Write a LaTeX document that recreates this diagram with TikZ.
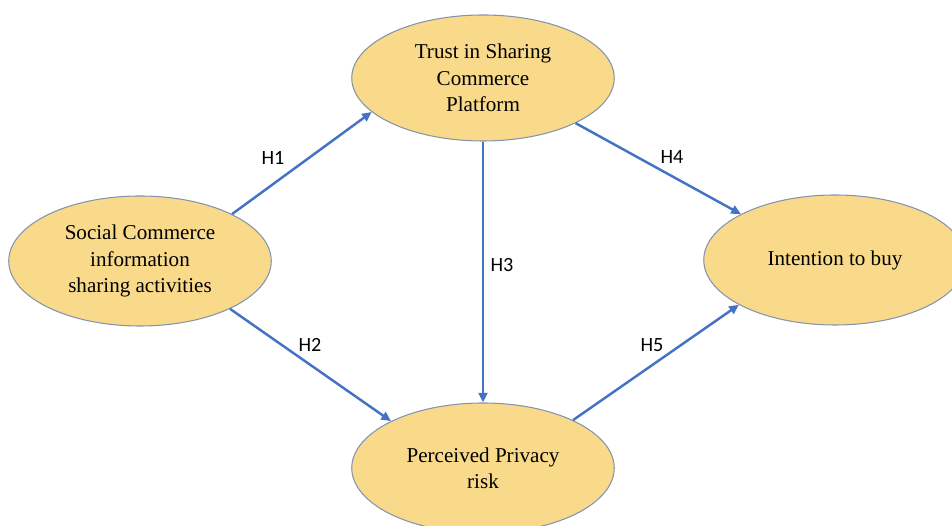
\documentclass[tikz,border=0pt]{standalone}
\usepackage{fontspec}
\setmainfont{Liberation Serif}
\newfontfamily\labelfont{Carlito}
\usetikzlibrary{shapes.geometric,arrows.meta}

\definecolor{cfill}{RGB}{249,217,138}
\definecolor{cline}{RGB}{132,148,172}
\definecolor{harrow}{RGB}{68,114,196}

\tikzset{
  construct/.style={ellipse, draw=cline, line width=0.6pt, fill=cfill,
    minimum width=5.25cm, minimum height=2.6cm, inner sep=0pt, align=center,
    font=\fontsize{12}{15}\selectfont},
  hyp/.style={draw=harrow, line width=1.4pt, -{Triangle[length=5.5pt,width=5pt]}},
  hlabel/.style={font=\labelfont\fontsize{11.5}{13}\selectfont, inner sep=0pt}
}

\begin{document}
\begin{tikzpicture}
\useasboundingbox (0,0) rectangle (19.04,-10.52);
% constructs
\node[construct, minimum height=2.52cm] (trust) at (9.66,-1.56) {Trust in Sharing\\Commerce\\Platform};
\node[construct] (social) at (2.8,-5.22) {Social Commerce\\information\\sharing activities};
\node[construct] (intent) at (16.7,-5.2) {Intention to buy};
\node[construct] (risk) at (9.66,-9.36) {Perceived Privacy\\risk};
% hypotheses
\draw[hyp] (social.27) -- (trust.197);
\draw[hyp] (social.332) -- (risk.153);
\draw[hyp] (trust.south) -- (risk.north);
\draw[hyp] (trust.334) -- (intent.154);
\draw[hyp] (risk.28) -- (intent.205);
\node[hlabel] (h1) at (5.46,-3.16) {H1};
\node[hlabel] (h2) at (6.2,-6.9) {H2};
\node[hlabel] (h3) at (10.04,-5.3) {H3};
\node[hlabel] (h4) at (13.44,-3.14) {H4};
\node[hlabel] (h5) at (13.04,-6.9) {H5};
\end{tikzpicture}
\end{document}
